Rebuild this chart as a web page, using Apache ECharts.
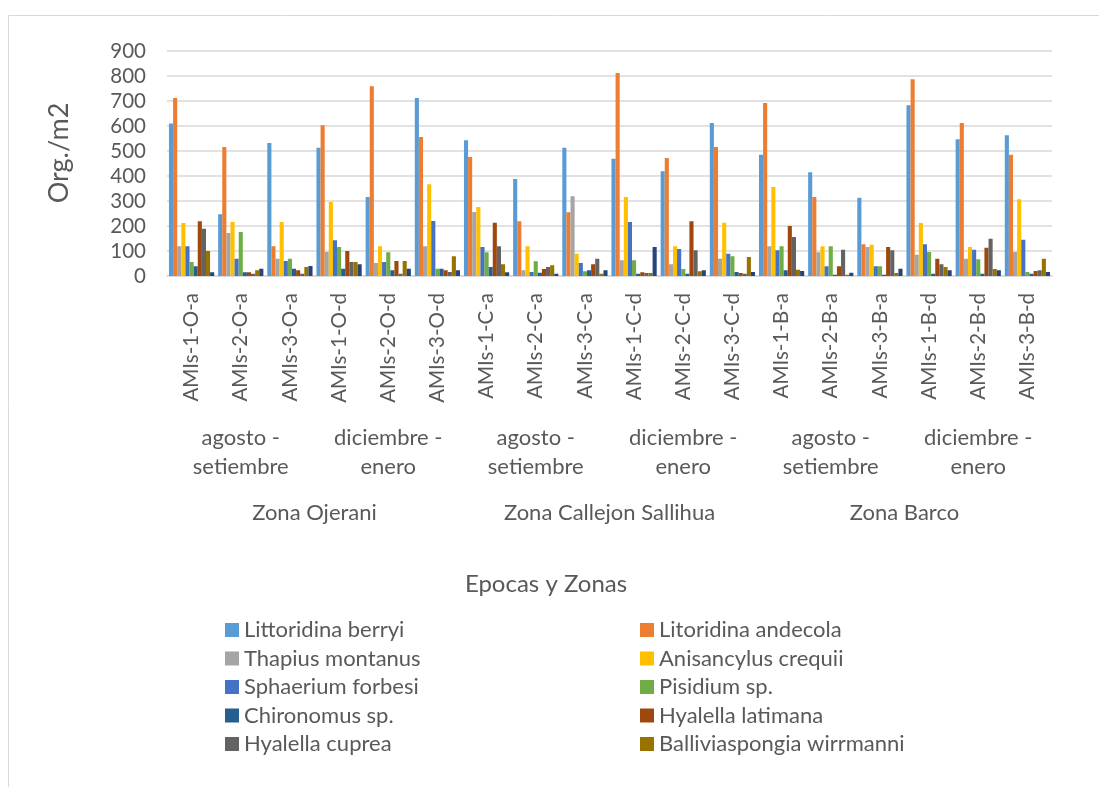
<!DOCTYPE html>
<html>
<head>
<meta charset="utf-8">
<title>Org./m2 por Epocas y Zonas</title>
<script src="https://cdn.jsdelivr.net/npm/echarts@6/dist/echarts.min.js"></script>
<style>
  html, body { margin: 0; padding: 0; background: #ffffff; }
  #chart { width: 1099px; height: 787px; }
</style>
</head>
<body>
<div id="chart"></div>
<script>
// Sampling stations (first category level)
const stations = [
  'AMIs-1-O-a', 'AMIs-2-O-a', 'AMIs-3-O-a', 'AMIs-1-O-d', 'AMIs-2-O-d', 'AMIs-3-O-d',
  'AMIs-1-C-a', 'AMIs-2-C-a', 'AMIs-3-C-a', 'AMIs-1-C-d', 'AMIs-2-C-d', 'AMIs-3-C-d',
  'AMIs-1-B-a', 'AMIs-2-B-a', 'AMIs-3-B-a', 'AMIs-1-B-d', 'AMIs-2-B-d', 'AMIs-3-B-d'
];
// Seasons (second level) and zones (third level)
const seasons = [
  'agosto -\nsetiembre', 'diciembre -\nenero',
  'agosto -\nsetiembre', 'diciembre -\nenero',
  'agosto -\nsetiembre', 'diciembre -\nenero'
];
const zones = ['Zona Ojerani', 'Zona Callejon Sallihua', 'Zona Barco'];

// Density per taxon (Org./m2)
const littoridinaBerryi = [610, 247, 532, 513, 316, 712, 543, 388, 513, 469, 419, 612, 485, 415, 313, 683, 547, 563];
const litoridinaAndecola = [712, 516, 119, 603, 759, 556, 476, 219, 255, 812, 472, 516, 692, 316, 127, 787, 612, 485];
const thapiusMontanus = [119, 172, 69, 96, 52, 119, 256, 23, 319, 63, 47, 69, 119, 95, 116, 85, 69, 96];
const anisancylusCrequii = [212, 216, 216, 296, 119, 367, 276, 119, 89, 316, 119, 213, 356, 119, 125, 212, 116, 307];
const sphaeriumForbesi = [119, 69, 60, 143, 56, 220, 116, 16, 52, 216, 108, 89, 103, 39, 39, 127, 105, 145];
const pisidiumSp = [56, 176, 69, 116, 95, 29, 95, 59, 19, 63, 28, 79, 119, 119, 39, 96, 67, 16];
const chironomusSp = [39, 15, 29, 29, 23, 29, 36, 13, 23, 9, 9, 16, 23, 5, 5, 9, 9, 9];
const hyalellaLatimana = [219, 15, 23, 100, 60, 23, 213, 28, 47, 15, 219, 12, 200, 39, 116, 69, 113, 20];
const hyalellaCuprea = [189, 9, 9, 56, 9, 16, 119, 36, 69, 12, 103, 9, 156, 105, 103, 47, 149, 23];
const balliviaspongiaWirrmanni = [100, 23, 36, 56, 60, 79, 47, 43, 9, 12, 19, 76, 25, 5, 12, 36, 28, 69];
const otros = [15, 29, 40, 47, 29, 23, 15, 9, 23, 116, 23, 16, 20, 13, 29, 23, 23, 16];

const yTicks = { min: 0, max: 900, interval: 100 };

const seriesDefs = [
  ['Littoridina berryi', littoridinaBerryi, '#5B9BD5'],
  ['Litoridina andecola', litoridinaAndecola, '#ED7D31'],
  ['Thapius montanus', thapiusMontanus, '#A5A5A5'],
  ['Anisancylus crequii', anisancylusCrequii, '#FFC000'],
  ['Sphaerium forbesi', sphaeriumForbesi, '#4472C4'],
  ['Pisidium sp.', pisidiumSp, '#70AD47'],
  ['Chironomus sp.', chironomusSp, '#255E91'],
  ['Hyalella latimana', hyalellaLatimana, '#9E480E'],
  ['Hyalella cuprea', hyalellaCuprea, '#636363'],
  ['Balliviaspongia wirrmanni', balliviaspongiaWirrmanni, '#997300'],
  ['Otros', otros, '#264478']
];

const FONT = 'Lato';
const TXT = '#595959';

const chart = echarts.init(document.getElementById('chart'), null, { renderer: 'canvas' });

const legendCommon = {
  orient: 'vertical',
  top: 619,
  padding: 0,
  itemWidth: 14,
  itemHeight: 14,
  itemGap: 6.5,
  icon: 'rect',
  selectedMode: false,
  textStyle: { fontFamily: FONT, fontSize: 22, color: TXT, lineHeight: 20 }
};

const option = {
  animation: false,
  backgroundColor: '#ffffff',
  textStyle: { fontFamily: FONT },
  title: {
    text: 'Epocas y Zonas',
    left: 541,
    top: 567,
    textAlign: 'center',
    textStyle: { fontFamily: FONT, fontSize: 24, fontWeight: 'normal', color: TXT }
  },
  legend: [
    Object.assign({ left: 225, data: seriesDefs.filter((d, i) => i < 10 && i % 2 === 0).map(d => d[0]) }, legendCommon),
    Object.assign({ left: 640, data: seriesDefs.filter((d, i) => i < 10 && i % 2 === 1).map(d => d[0]) }, legendCommon)
  ],
  grid: { left: 167, right: 47, top: 51, bottom: 511, containLabel: false },
  xAxis: [
    {
      type: 'category',
      data: stations,
      position: 'bottom',
      axisLine: { show: true, lineStyle: { color: '#d9d9d9', width: 1.5 } },
      axisTick: { show: false },
      axisLabel: { interval: 0, rotate: 90, margin: 17, fontFamily: FONT, fontSize: 20.5, color: TXT }
    },
    {
      type: 'category',
      data: seasons,
      position: 'bottom',
      offset: 140,
      axisLine: { show: false },
      axisTick: { show: false },
      splitLine: { show: false },
      axisLabel: { interval: 0, margin: 7.5, fontFamily: FONT, fontSize: 22, color: TXT, lineHeight: 29 }
    },
    {
      type: 'category',
      data: zones,
      position: 'bottom',
      offset: 215,
      axisLine: { show: false },
      axisTick: { show: false },
      splitLine: { show: false },
      axisLabel: { interval: 0, margin: 7.5, fontFamily: FONT, fontSize: 22, color: TXT, lineHeight: 29 }
    }
  ],
  yAxis: {
    type: 'value',
    min: yTicks.min,
    max: yTicks.max,
    interval: yTicks.interval,
    axisLine: { show: false },
    axisTick: { show: false },
    splitLine: { lineStyle: { color: '#d9d9d9', width: 1.5 } },
    axisLabel: { margin: 21, fontFamily: FONT, fontSize: 20.5, color: TXT }
  },
  graphic: [
    {
      type: 'rect',
      silent: true,
      shape: { x: 8.5, y: 15.5, width: 1200, height: 900 },
      style: { fill: 'none', stroke: '#d9d9d9', lineWidth: 1 }
    },
    {
      type: 'text',
      silent: true,
      x: 59,
      y: 153,
      rotation: Math.PI / 2,
      style: {
        text: 'Org./m2',
        align: 'center',
        verticalAlign: 'middle',
        fontFamily: FONT,
        fontSize: 27,
        fill: TXT
      }
    }
  ],
  series: seriesDefs.map(([name, values, color]) => ({
    name: name,
    type: 'bar',
    xAxisIndex: 0,
    data: values,
    barGap: '0%',
    barCategoryGap: '8%',
    itemStyle: { color: color },
    emphasis: { disabled: true }
  }))
};

chart.setOption(option);
</script>
</body>
</html>
